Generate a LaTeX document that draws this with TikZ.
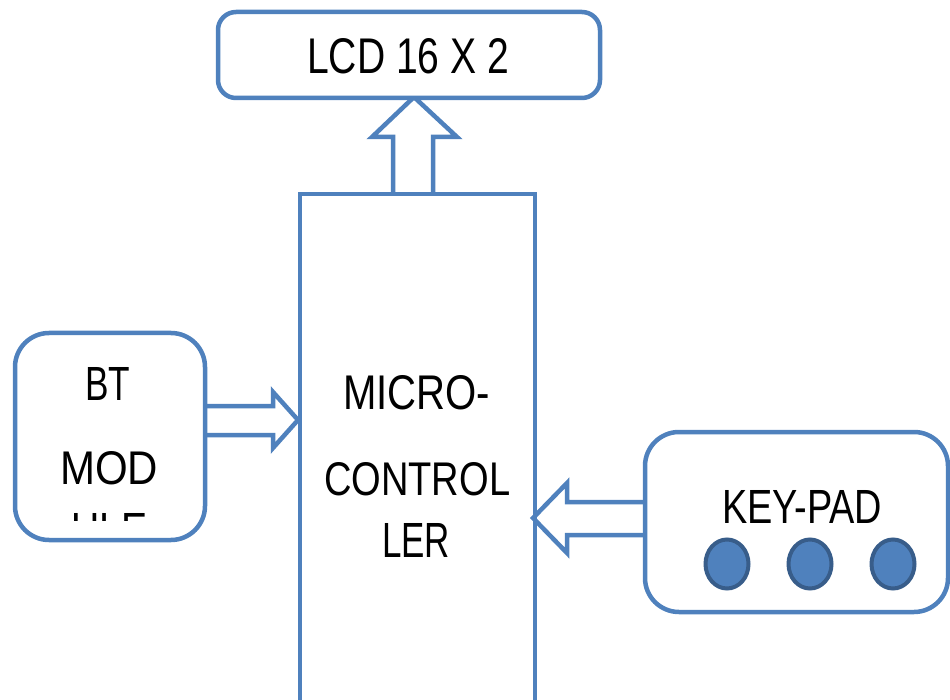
\documentclass[tikz,border=0pt]{standalone}
\usepackage{fontspec}
\setmainfont{Liberation Sans}
\usepackage{graphicx}
\definecolor{obl}{HTML}{4F81BD}
\definecolor{obd}{HTML}{385D8A}
\newcommand{\fitx}[3]{\resizebox{#1pt}{#2pt}{#3}}
\tikzset{
  blk/.style={draw=obl, line width=4.5pt, fill=white},
  fatarrow/.style={draw=obl, line width=4.5pt, fill=white, line join=miter},
  lbl/.style={inner sep=0pt, anchor=base west, text=black},
  btn/.style={draw=obd, line width=4pt, fill=obl, ellipse, minimum width=43pt, minimum height=49pt, inner sep=0pt}
}
\usetikzlibrary{shapes.geometric}
\begin{document}
\begin{tikzpicture}[x=1pt,y=-1pt]
\useasboundingbox (0,0) rectangle (950,700);
\clip (0,0) rectangle (950,700);
% arrows
\draw[fatarrow] (393,194) -- (393,137) -- (372,137) -- (414,97) -- (457,137) -- (433,137) -- (433,194);
\draw[fatarrow] (205,406) -- (273,406) -- (273,392) -- (298,420) -- (273,448) -- (273,435) -- (205,435);
\draw[fatarrow] (645,502) -- (567,502) -- (567,483) -- (533,518) -- (567,553) -- (567,535) -- (645,535);
% boxes
\draw[blk, rounded corners=18pt] (218,12) rectangle (600,98);
\node[coordinate] (lcd) at (409,55) {};
\draw[blk, fill=none] (300,194) rectangle (535,720);
\node[coordinate] (mcu) at (417,450) {};
\draw[blk, rounded corners=34pt] (15,333) rectangle (205,540);
\node[coordinate] (bt) at (110,436) {};
\draw[blk, rounded corners=34pt] (645,432) rectangle (948,612);
\node[coordinate] (kp) at (796,522) {};
% labels
\node[lbl] (t1) at (307,74) {\fitx{202}{35}{LCD 16 X 2}};
\node[lbl] (t2) at (85,400) {\fitx{45}{33}{BT}};
\node[lbl] (t3) at (60,484) {\fitx{98}{33}{MOD}};
\begin{scope}
\clip (20,505) rectangle (200,520);
\node[lbl] (t4) at (71,546) {\fitx{76}{33}{ULE}};
\end{scope}
\node[lbl] (t5) at (343,409) {\fitx{147}{34}{MICRO-}};
\node[lbl] (t6) at (324,495) {\fitx{186}{33}{CONTROL}};
\node[lbl] (t7) at (382,557) {\fitx{68}{34}{LER}};
\node[lbl] (t8) at (722,523) {\fitx{160}{33}{KEY-PAD}};
% buttons
\node[btn] (b1) at (727,564) {};
\node[btn] (b2) at (810,564) {};
\node[btn] (b3) at (893,564) {};
\end{tikzpicture}
\end{document}
